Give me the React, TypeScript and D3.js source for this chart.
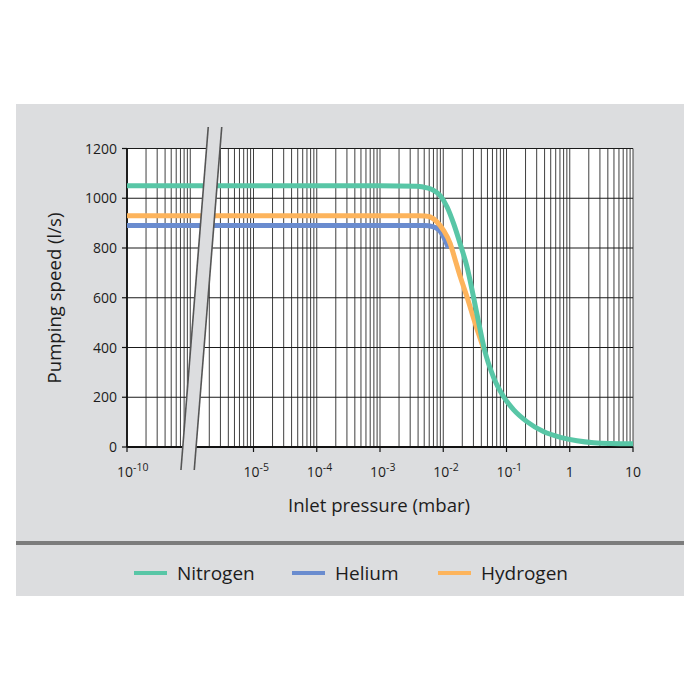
import React, { useEffect, useRef } from 'react';
import * as d3 from 'd3';

// pumping speed curves, pressure in mbar, speed in l/s
const nitrogenP = [1e-10, 1e-3, 3.8e-3, 5.5e-3, 7.0e-3, 9.0e-3, 1.15e-2, 1.46e-2, 1.86e-2, 2.37e-2, 3.0e-2, 3.7e-2, 4.45e-2, 6.2e-2, 9.0e-2, 0.13, 0.21, 0.39, 0.71, 1.3, 2.4, 4.4, 10];
const nitrogenS = [1050, 1050, 1048, 1042, 1032, 1010, 965, 898, 815, 725, 605, 490, 395, 282, 202, 149, 102, 61, 39, 25, 17, 14, 13];

const heliumP = [1e-10, 5e-3, 7.0e-3, 9.5e-3, 1.21e-2];
const heliumS = [890, 890, 885, 858, 800];

const hydrogenP = [1e-10, 4e-3, 5.2e-3, 6.2e-3, 7.95e-3, 1.01e-2, 1.29e-2, 1.55e-2, 1.86e-2, 2.37e-2, 3.2e-2, 4.4e-2];
const hydrogenS = [930, 930, 929, 925, 905, 871, 818, 751, 684, 604, 497, 392];

const yTicks = [0, 200, 400, 600, 800, 1000, 1200];
const xTickValues = [1e-10, 1e-5, 1e-4, 1e-3, 1e-2, 1e-1, 1, 10];
const xTickExponents = ['-10', '-5', '-4', '-3', '-2', '-1', '', ''];
const xTickPlain = ['', '', '', '', '', '', '1', '10'];

const series = [
    { name: 'Nitrogen', p: nitrogenP, s: nitrogenS, color: '#58c6a6' },
    { name: 'Helium', p: heliumP, s: heliumS, color: '#6a8ccf' },
    { name: 'Hydrogen', p: hydrogenP, s: hydrogenS, color: '#fdb45c' },
];

const PANEL = '#dcdddf';
const INK = '#1c1c1c';
const NUM_FONT = '"Open Sans", "Noto Sans", sans-serif';
const TXT_FONT = '"Open Sans", "Noto Sans", sans-serif';

export default function App() {
    const svgRef = useRef<SVGSVGElement>(null);

    useEffect(() => {
        if (!svgRef.current) return;
        const svg = d3.select(svgRef.current);
        svg.html('');

        const width = 700;
        const height = 700;
        const margin = { top: 148.5, right: 67, bottom: 253, left: 127 };
        const plotW = width - margin.left - margin.right;
        const plotH = height - margin.top - margin.bottom;

        // panel background + separator
        svg.append('rect').attr('x', 16).attr('y', 104).attr('width', 668).attr('height', 492).attr('fill', PANEL);
        svg.append('rect').attr('x', 16).attr('y', 541).attr('width', 668).attr('height', 4).attr('fill', '#7c7c7c');

        // log axis with a break: 1e-10..1e-9 drawn, then jump to 1e-6..10
        const xs = d3.scaleLog().domain([1e-7, 10]).range([0, plotW]);
        const x = (p: number) => (p < 1e-8 ? xs(p * 1e3) : xs(p));
        const y = d3.scaleLinear().domain([0, 1200]).range([plotH, 0]);

        const g = svg.append('g').attr('transform', `translate(${margin.left},${margin.top})`);

        g.append('rect').attr('width', plotW).attr('height', plotH).attr('fill', '#fff');

        // vertical grid
        const gridX: number[] = [];
        for (let k = 1; k <= 9; k++) gridX.push(k * 1e-10);
        for (let d = -6; d <= 0; d++) for (let k = 1; k <= 9; k++) gridX.push(k * Math.pow(10, d));
        gridX.push(10);

        g.selectAll('line.vgrid')
            .data(gridX)
            .enter()
            .append('line')
            .attr('x1', d => x(d))
            .attr('x2', d => x(d))
            .attr('y1', 0)
            .attr('y2', plotH)
            .attr('stroke', '#2a2a2a')
            .attr('stroke-width', 0.9);

        g.selectAll('line.hgrid')
            .data(yTicks)
            .enter()
            .append('line')
            .attr('x1', 0)
            .attr('x2', plotW)
            .attr('y1', d => y(d))
            .attr('y2', d => y(d))
            .attr('stroke', '#1a1a1a')
            .attr('stroke-width', 1.1);

        // axes lines
        g.append('line').attr('x1', 0).attr('x2', 0).attr('y1', 0).attr('y2', plotH).attr('stroke', '#111').attr('stroke-width', 1.8);
        g.append('line').attr('x1', 0).attr('x2', plotW).attr('y1', plotH).attr('y2', plotH).attr('stroke', '#111').attr('stroke-width', 1.8);

        // y ticks
        g.selectAll('line.ytick')
            .data(yTicks)
            .enter()
            .append('line')
            .attr('x1', -5)
            .attr('x2', 0)
            .attr('y1', d => y(d))
            .attr('y2', d => y(d))
            .attr('stroke', '#111')
            .attr('stroke-width', 1.2);

        g.selectAll('text.ylab')
            .data(yTicks)
            .enter()
            .append('text')
            .attr('x', -10)
            .attr('y', d => y(d) + 5)
            .attr('text-anchor', 'end')
            .style('font-family', NUM_FONT)
            .style('font-size', '14px')
            .style('fill', INK)
            .text(d => d);

        // x ticks
        g.selectAll('line.xtick')
            .data(xTickValues)
            .enter()
            .append('line')
            .attr('x1', d => x(d))
            .attr('x2', d => x(d))
            .attr('y1', plotH)
            .attr('y2', plotH + 5)
            .attr('stroke', '#111')
            .attr('stroke-width', 1.2);

        xTickValues.forEach((v, i) => {
            const t = g.append('text')
                .attr('y', plotH + 30)
                .style('font-family', NUM_FONT)
                .style('font-size', '14px')
                .style('fill', INK);
            if (xTickExponents[i]) {
                t.attr('x', x(v) - 10).attr('text-anchor', 'start');
                t.append('tspan').text('10');
                t.append('tspan').attr('dy', -6).style('font-size', '10.5px').text(xTickExponents[i]);
            } else {
                t.attr('x', x(v)).attr('text-anchor', 'middle').text(xTickPlain[i]);
            }
        });

        // curves
        const line = d3.line<[number, number]>()
            .x(d => x(d[0]))
            .y(d => y(d[1]))
            .curve(d3.curveMonotoneX);

        [series[1], series[2], series[0]].forEach(sr => {
            const pts = sr.p.map((p, i) => [p, sr.s[i]] as [number, number]);
            g.append('path')
                .attr('d', line(pts))
                .attr('fill', 'none')
                .attr('stroke', sr.color)
                .attr('stroke-width', 5);
        });

        // axis break band
        const bx = x(1e-6);
        const band = [
            [bx + 18, -21.5],
            [bx + 31.5, -21.5],
            [bx + 4, plotH + 23],
            [bx - 9.3, plotH + 23],
        ];
        g.append('polygon')
            .attr('points', band.map(p => p.join(',')).join(' '))
            .attr('fill', PANEL);
        [[0, 3], [1, 2]].forEach(([a, b]) => {
            g.append('line')
                .attr('x1', band[a][0]).attr('y1', band[a][1])
                .attr('x2', band[b][0]).attr('y2', band[b][1])
                .attr('stroke', '#555')
                .attr('stroke-width', 1.6);
        });

        // axis titles
        svg.append('text')
            .attr('x', margin.left + plotW / 2 - 1)
            .attr('y', 512)
            .attr('text-anchor', 'middle')
            .style('font-family', TXT_FONT)
            .style('font-size', '18.6px')
            .style('fill', INK)
            .text('Inlet pressure (mbar)');

        svg.append('text')
            .attr('transform', `translate(61, 298) rotate(-90)`)
            .attr('text-anchor', 'middle')
            .style('font-family', TXT_FONT)
            .style('font-size', '18.6px')
            .style('fill', INK)
            .text('Pumping speed (l/s)');

        // legend
        const legendX = [134, 292, 438];
        series.forEach((sr, i) => {
            svg.append('rect')
                .attr('x', legendX[i])
                .attr('y', 571)
                .attr('width', 33)
                .attr('height', 4)
                .attr('fill', sr.color);
            svg.append('text')
                .attr('x', legendX[i] + 43)
                .attr('y', 580)
                .style('font-family', TXT_FONT)
                .style('font-size', '19px')
                .style('fill', INK)
                .text(sr.name);
        });
    }, []);

    return (
        <svg
            ref={svgRef}
            width={700}
            height={700}
            style={{ position: 'absolute', left: 0, top: 0, background: '#fff' }}
        ></svg>
    );
}
